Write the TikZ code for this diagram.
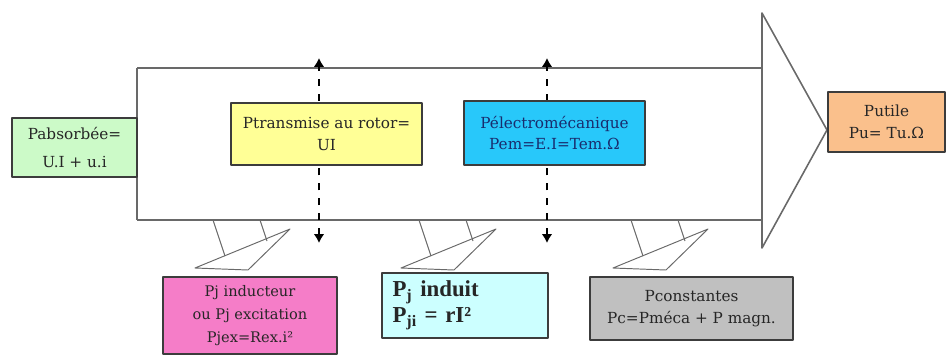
\documentclass[tikz,border=0pt]{standalone}
\usepackage{fontspec}
\setmainfont{DejaVu Serif}[Scale=0.79]
\newfontfamily\timesfam{Liberation Serif}
\usetikzlibrary{arrows.meta,calc}
\usetikzlibrary{positioning}
\definecolor{absgreen}{RGB}{204,250,200}
\definecolor{trayellow}{RGB}{255,255,150}
\definecolor{emblue}{RGB}{40,200,250}
\definecolor{emtext}{RGB}{25,45,110}
\definecolor{utorange}{RGB}{250,192,140}
\definecolor{jxpink}{RGB}{245,125,200}
\definecolor{jicyan}{RGB}{204,255,255}
\definecolor{cstgray}{RGB}{192,192,192}
\definecolor{boxline}{RGB}{60,60,60}
\definecolor{bandgray}{RGB}{105,105,105}
\tikzset{pbox/.style={draw=boxline,line width=0.9pt,align=center,inner sep=2pt,text=black!85,font=\fontsize{11}{12.5}\selectfont}}
\tikzset{band/.style={draw=bandgray,line width=0.9pt}}
\tikzset{leak/.style={draw=bandgray,line width=0.55pt}}
\tikzset{dasharr/.style={line width=1.1pt,dash pattern=on 4pt off 4.5pt,{Latex[length=5pt,width=6pt]}-{Latex[length=5pt,width=6pt]}}}

\begin{document}
\begin{tikzpicture}[x=0.02cm,y=-0.02cm,>=Stealth,line join=round]
\useasboundingbox (0,0) rectangle (947,355);
% --- main power band and output arrow
\draw[band] (137,68) -- (762,68) (137,220) -- (762,220) (137,68) -- (137,220);
\draw[band,fill=white] (762,13) -- (827,130) -- (762,248) -- cycle;
% --- losses leaving the band
\foreach \lx in {213,419,631} {\draw[leak] (\lx,220) -- ++(12,36) (\lx+47,220) -- ++(7,21); \draw[leak] (\lx-18,268) -- (\lx+77,229) -- (\lx+35,270) -- cycle;}
% --- power taps
\coordinate (tr_up) at (319,58); \coordinate (tr_dn) at (319,243);
\coordinate (em_up) at (547,58); \coordinate (em_dn) at (547,243);
\draw[dasharr] (tr_dn) -- (tr_up);
\draw[dasharr] (em_dn) -- (em_up);
% --- power boxes
\node[pbox,fill=absgreen,minimum width=2.5cm,minimum height=1.18cm,font=\fontsize{11}{16}\selectfont] (pabs) at (74.5,147.5) {Pabsorbée=\\U.I + u.i};
\node[pbox,fill=trayellow,minimum width=3.82cm,minimum height=1.24cm] (ptr) at (326.5,134) {Ptransmise au rotor=\\UI};
\node[pbox,fill=emblue,text=emtext,minimum width=3.62cm,minimum height=1.28cm] (pem) at (554.5,133) {Pélectromécanique\\Pem=E.I=Tem.Ω};
\node[pbox,fill=utorange,minimum width=2.34cm,minimum height=1.2cm] (put) at (886.5,122) {Putile\\Pu= Tu.Ω};
\node[pbox,fill=jxpink,minimum width=3.48cm,minimum height=1.54cm,font=\fontsize{10.5}{13}\selectfont] (pjx) at (250,315.5) {Pj inducteur\\ou Pj excitation\\Pjex=Rex.i²};
\node[pbox,fill=jicyan,minimum width=3.32cm,minimum height=1.3cm,text width=2.9cm,align=left,font=\timesfam\fontsize{13}{15}\selectfont\bfseries] (pji) at (465,305.5) {P\textsubscript{j} induit\\P\textsubscript{ji} = rI²};
\node[pbox,fill=cstgray,minimum width=4.06cm,minimum height=1.26cm] (pcst) at (691.5,308.5) {Pconstantes\\Pc=Pméca + P magn.};
\end{tikzpicture}
\end{document}
